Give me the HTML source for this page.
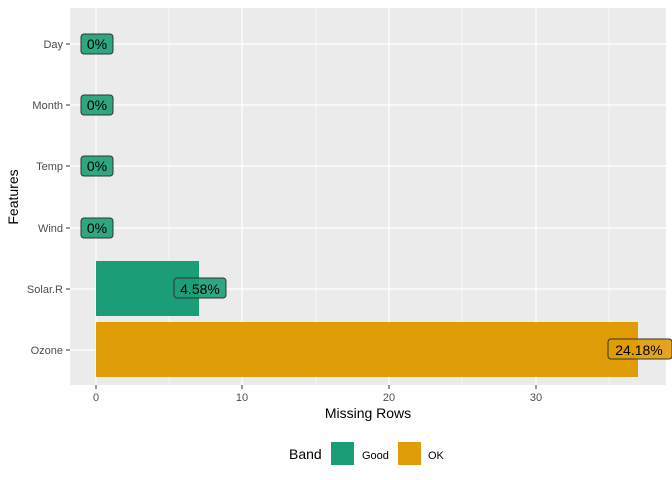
<!DOCTYPE html>
<html><head><style>body{margin:0;background:#fff}svg{display:block;font-family:"Liberation Sans",sans-serif}</style></head><body>
<svg width="672" height="480" viewBox="0 0 672 480">
<rect x="70" y="8" width="596" height="377" fill="#ebebeb"/>
<g stroke="#fff" stroke-width="0.6">
<line x1="169" y1="8" x2="169" y2="385"/><line x1="316" y1="8" x2="316" y2="385"/><line x1="462" y1="8" x2="462" y2="385"/><line x1="609" y1="8" x2="609" y2="385"/>
</g>
<g stroke="#fff" stroke-width="1.2">
<line x1="96" y1="8" x2="96" y2="385"/><line x1="242" y1="8" x2="242" y2="385"/><line x1="389" y1="8" x2="389" y2="385"/><line x1="536" y1="8" x2="536" y2="385"/>
<line x1="70" y1="44" x2="666" y2="44"/><line x1="70" y1="105" x2="666" y2="105"/><line x1="70" y1="166" x2="666" y2="166"/><line x1="70" y1="228" x2="666" y2="228"/><line x1="70" y1="289" x2="666" y2="289"/><line x1="70" y1="350" x2="666" y2="350"/>
</g>
<rect x="96" y="261" width="103" height="55" fill="#1b9e77"/>
<rect x="96" y="322" width="542" height="55" fill="#e09c06"/>
<g font-size="14" text-anchor="middle" fill="#000">
<g stroke="#333" stroke-width="1">
<rect x="81" y="34" width="32" height="20" rx="3" fill="#1b9e77" fill-opacity="0.9"/>
<rect x="81" y="95" width="32" height="20" rx="3" fill="#1b9e77" fill-opacity="0.9"/>
<rect x="81" y="156" width="32" height="20" rx="3" fill="#1b9e77" fill-opacity="0.9"/>
<rect x="81" y="218" width="32" height="20" rx="3" fill="#1b9e77" fill-opacity="0.9"/>
<rect x="174" y="278" width="52" height="20" rx="3" fill="#1b9e77" fill-opacity="0.9"/>
<rect x="608" y="339" width="64" height="20" rx="3" fill="#e09c06" fill-opacity="0.9"/>
</g>
<text x="97" y="49">0%</text><text x="97" y="110">0%</text><text x="97" y="171">0%</text><text x="97" y="233">0%</text>
<text x="200" y="294">4.58%</text><text x="639" y="355">24.18%</text>
</g>
<g stroke="#333" stroke-width="1">
<line x1="66" y1="44" x2="70" y2="44"/><line x1="66" y1="105" x2="70" y2="105"/><line x1="66" y1="166" x2="70" y2="166"/><line x1="66" y1="228" x2="70" y2="228"/><line x1="66" y1="289" x2="70" y2="289"/><line x1="66" y1="350" x2="70" y2="350"/>
<line x1="96" y1="385" x2="96" y2="389"/><line x1="242" y1="385" x2="242" y2="389"/><line x1="389" y1="385" x2="389" y2="389"/><line x1="536" y1="385" x2="536" y2="389"/>
</g>
<g font-size="11" fill="#4d4d4d" text-anchor="end">
<text x="63" y="48">Day</text><text x="63" y="109">Month</text><text x="63" y="170">Temp</text><text x="63" y="232">Wind</text><text x="63" y="293">Solar.R</text><text x="63" y="354">Ozone</text>
</g>
<g font-size="11" fill="#4d4d4d" text-anchor="middle">
<text x="96" y="401">0</text><text x="242" y="401">10</text><text x="389" y="401">20</text><text x="536" y="401">30</text>
</g>
<text x="368" y="418" font-size="14" text-anchor="middle">Missing Rows</text>
<text transform="translate(18,197) rotate(-90)" font-size="14" text-anchor="middle">Features</text>
<text x="289" y="459" font-size="14">Band</text>
<rect x="331" y="442" width="23" height="23" fill="#1b9e77"/>
<text x="362" y="459" font-size="11">Good</text>
<rect x="398" y="442" width="23" height="23" fill="#e09c06"/>
<text x="428" y="459" font-size="11">OK</text>
</svg>
</body></html>
